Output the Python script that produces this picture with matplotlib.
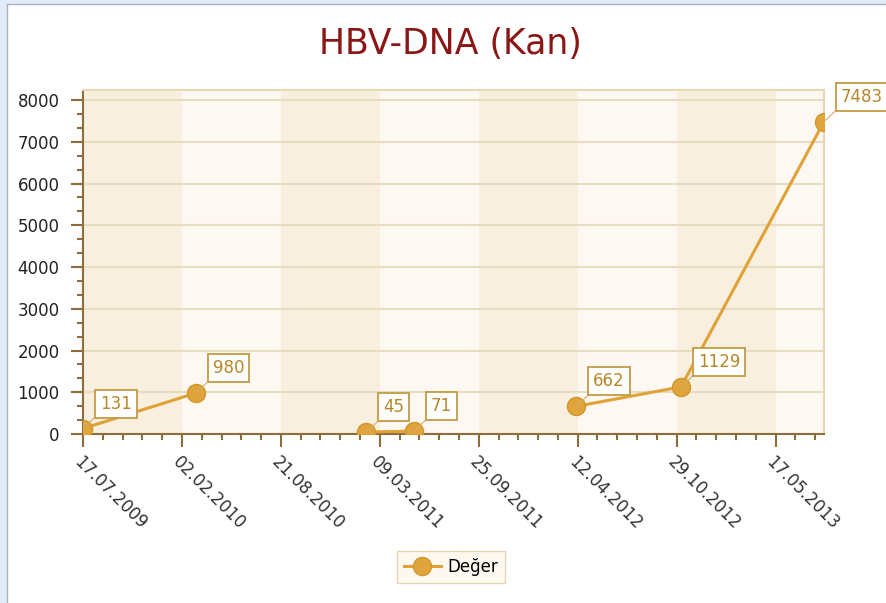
"""HBV-DNA (Kan) degerleri - tarih ekseni uzerinde cizgi grafik"""

from datetime import datetime
import numpy as np
import matplotlib
matplotlib.use('Agg')
from matplotlib import pyplot as plt
import matplotlib.dates as mdates
from matplotlib.lines import Line2D
from matplotlib.patches import Rectangle

# Olcum tarihleri, degerler ve cizgi parcalari (aradaki bosluklar icin)
dates = ['17.07.2009', '02.03.2010', '10.02.2011', '17.05.2011',
         '09.04.2012', '07.11.2012', '23.08.2013']
values = [131, 980, 45, 71, 662, 1129, 7483]
segments = [0, 0, 1, 1, 2, 2, 2]
tick_labels = ['17.07.2009', '02.02.2010', '21.08.2010', '09.03.2011',
               '25.09.2011', '12.04.2012', '29.10.2012', '17.05.2013']
series_name = 'Değer'

x = np.array([mdates.date2num(datetime.strptime(d, '%d.%m.%Y')) for d in dates])
y = np.array(values, dtype=float)
seg = np.array(segments)
ticks = [mdates.date2num(datetime.strptime(d, '%d.%m.%Y')) for d in tick_labels]

line_c = '#e0a236'
mark_c = '#e0a43c'
brown = '#8c6d3c'
label_c = '#b8862a'

fig = plt.figure(figsize=(8.87, 6.03), dpi=100)
fig.patches.append(Rectangle((0, 0), 7 / 887, 1, transform=fig.transFigure,
                             fc='#e3ecf9', ec='none'))
fig.patches.append(Rectangle((0, 1 - 4 / 603), 1, 4 / 603, transform=fig.transFigure,
                             fc='#e3ecf9', ec='none'))
fig.add_artist(Line2D([7 / 887, 7 / 887], [0, 1 - 4 / 603], transform=fig.transFigure,
                      color='#a8b4c4', lw=1))
fig.add_artist(Line2D([7 / 887, 1], [1 - 4 / 603, 1 - 4 / 603], transform=fig.transFigure,
                      color='#a8b4c4', lw=1))

ax = fig.add_axes([83 / 887, 1 - 434 / 603, (824 - 83) / 887, (434 - 90) / 603])
ax.set_facecolor('#fdf9f2')

# Interlaced bands between major ticks
xmin, xmax = x.min(), x.max()
edges = list(ticks) + [xmax]
for i in range(len(edges) - 1):
    if i % 2 == 0:
        ax.axvspan(edges[i], edges[i + 1], color='#f8efdf', lw=0, zorder=0)

ax.set_xlim(xmin, xmax)
ax.set_ylim(0, 8240)

for s in np.unique(seg):
    m = seg == s
    ax.plot(x[m], y[m], color=line_c, lw=2.2, marker='o', markersize=13,
            markerfacecolor=mark_c, markeredgecolor='#d3952c', markeredgewidth=1,
            zorder=3)

for xi, yi in zip(x, y):
    ax.annotate(f'{int(yi)}', xy=(xi, yi), xytext=(17, 16), textcoords='offset pixels',
                ha='left', va='bottom', fontsize=12, color=label_c,
                bbox=dict(boxstyle='square,pad=0.3', fc='white', ec='#c49a45', lw=1.3),
                arrowprops=dict(arrowstyle='-', color='#d2ad66', lw=0.8,
                                shrinkA=0, shrinkB=0, relpos=(0, 0)),
                annotation_clip=False, zorder=5)

# Axes format
ax.set_xticks(ticks)
ax.set_xticklabels(tick_labels, rotation=-45, ha='left', va='top',
                   rotation_mode='anchor', fontsize=12, color='#333333')
ax.set_xticks(np.arange(ticks[0], xmax, 40), minor=True)
ax.set_yticks(np.arange(0, 8001, 1000))
ax.set_yticks(np.arange(0, 8240, 1000 / 3), minor=True)
ax.tick_params(axis='y', labelsize=12, labelcolor='#222222', pad=8)
ax.tick_params(axis='both', which='major', length=9, width=1.5, color=brown)
ax.tick_params(axis='both', which='minor', length=4.5, width=1.5, color=brown)
ax.tick_params(axis='x', which='major', pad=5)

ax.grid(axis='y', color='#e8dbbf', lw=1.5, zorder=1)
ax.set_axisbelow(True)
for side in ['left', 'bottom']:
    ax.spines[side].set_color(brown)
    ax.spines[side].set_linewidth(1.5)
for side in ['top', 'right']:
    ax.spines[side].set_color('#e8d8b6')
    ax.spines[side].set_linewidth(1.5)

fig.text(450 / 887, 1 - 44 / 603, 'HBV-DNA (Kan)', ha='center', va='center',
         fontsize=25, color='#8b1616')

handle = Line2D([], [], color=line_c, lw=2.2, marker='o', markersize=13,
                markerfacecolor=mark_c, markeredgecolor='#d3952c')
leg = fig.legend([handle], [series_name], loc='center',
                 bbox_to_anchor=(451 / 887, 1 - 567 / 603), fontsize=12,
                 fancybox=False, framealpha=1, handlelength=2.2,
                 borderpad=0.4, handletextpad=0.4)
leg.get_frame().set_facecolor('#fdf9f1')
leg.get_frame().set_edgecolor('#e6d5b0')

fig.savefig('out.png', dpi=100)
